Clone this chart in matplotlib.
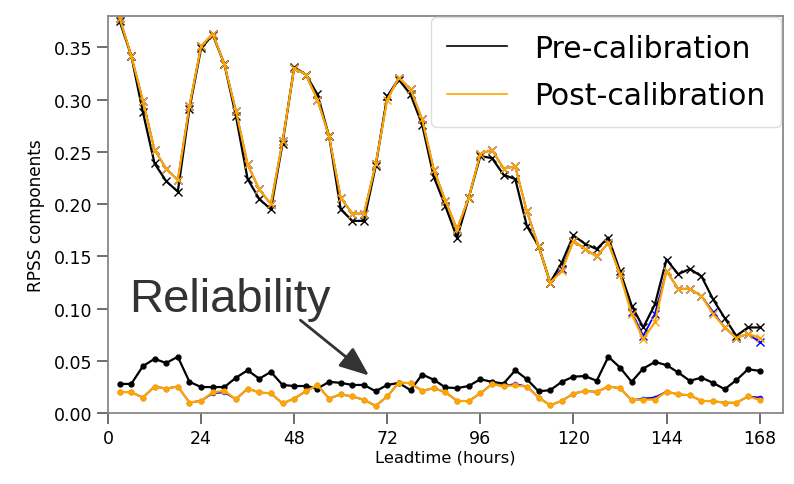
import matplotlib
matplotlib.use("Agg")
import matplotlib.pyplot as plt
from matplotlib.lines import Line2D
import numpy as np

leadtime = list(range(3, 169, 3))

rpss_pre = [0.375, 0.342, 0.288, 0.239, 0.222, 0.212, 0.291, 0.349, 0.362, 0.334,
            0.284, 0.224, 0.205, 0.195, 0.258, 0.331, 0.324, 0.305, 0.265, 0.195,
            0.184, 0.184, 0.236, 0.303, 0.319, 0.305, 0.276, 0.226, 0.198, 0.168,
            0.206, 0.246, 0.244, 0.228, 0.224, 0.179, 0.160, 0.125, 0.144, 0.170,
            0.162, 0.157, 0.168, 0.136, 0.103, 0.082, 0.104, 0.147, 0.133, 0.138,
            0.131, 0.109, 0.091, 0.074, 0.082, 0.082]

rpss_post = [0.378, 0.342, 0.299, 0.252, 0.234, 0.223, 0.294, 0.351, 0.363, 0.334,
             0.289, 0.238, 0.214, 0.200, 0.260, 0.330, 0.324, 0.300, 0.265, 0.206,
             0.191, 0.191, 0.238, 0.300, 0.321, 0.310, 0.281, 0.233, 0.203, 0.176,
             0.206, 0.248, 0.252, 0.234, 0.236, 0.193, 0.160, 0.125, 0.136, 0.165,
             0.157, 0.150, 0.163, 0.133, 0.095, 0.071, 0.087, 0.136, 0.119, 0.119,
             0.112, 0.095, 0.082, 0.072, 0.076, 0.072]

rpss_alt = [0.378, 0.342, 0.299, 0.252, 0.234, 0.223, 0.294, 0.351, 0.363, 0.334,
            0.289, 0.238, 0.214, 0.200, 0.260, 0.330, 0.324, 0.300, 0.265, 0.206,
            0.191, 0.191, 0.238, 0.303, 0.321, 0.310, 0.281, 0.233, 0.203, 0.176,
            0.206, 0.248, 0.252, 0.234, 0.236, 0.193, 0.160, 0.125, 0.138, 0.165,
            0.157, 0.150, 0.163, 0.133, 0.097, 0.074, 0.095, 0.136, 0.119, 0.119,
            0.112, 0.097, 0.082, 0.072, 0.076, 0.068]

rel_pre = [0.028, 0.028, 0.045, 0.052, 0.048, 0.054, 0.030, 0.025, 0.025, 0.025,
           0.034, 0.041, 0.033, 0.0395, 0.027, 0.026, 0.026, 0.0236, 0.030, 0.029,
           0.027, 0.027, 0.021, 0.027, 0.029, 0.022, 0.037, 0.032, 0.0246, 0.024,
           0.026, 0.0325, 0.030, 0.0284, 0.041, 0.0325, 0.021, 0.022, 0.030, 0.035,
           0.0355, 0.031, 0.054, 0.0437, 0.030, 0.0427, 0.049, 0.046, 0.039, 0.031,
           0.034, 0.029, 0.023, 0.0316, 0.042, 0.0405]

rel_post = [0.0204, 0.020, 0.015, 0.0255, 0.0236, 0.0255, 0.0102, 0.0118, 0.020, 0.0213,
            0.0134, 0.0236, 0.0198, 0.019, 0.0093, 0.014, 0.021, 0.0268, 0.014, 0.018,
            0.016, 0.0128, 0.007, 0.016, 0.0293, 0.0287, 0.0213, 0.024, 0.020, 0.0118,
            0.0115, 0.019, 0.0277, 0.026, 0.0265, 0.0255, 0.015, 0.0076, 0.0118, 0.0188,
            0.0213, 0.0204, 0.0255, 0.024, 0.0124, 0.013, 0.013, 0.0207, 0.018, 0.0172,
            0.0118, 0.0115, 0.010, 0.010, 0.016, 0.0128]

rel_alt = [0.0204, 0.020, 0.015, 0.0255, 0.0236, 0.0255, 0.0102, 0.0118, 0.019, 0.020,
           0.0134, 0.0236, 0.0198, 0.019, 0.0093, 0.014, 0.021, 0.0268, 0.014, 0.018,
           0.016, 0.0128, 0.007, 0.016, 0.0293, 0.0287, 0.0213, 0.024, 0.020, 0.0118,
           0.0115, 0.019, 0.0277, 0.026, 0.028, 0.0255, 0.015, 0.0076, 0.0118, 0.0188,
           0.0213, 0.0204, 0.0255, 0.024, 0.0124, 0.014, 0.015, 0.0207, 0.018, 0.0172,
           0.0118, 0.0115, 0.010, 0.010, 0.016, 0.015]

xticks = [0, 24, 48, 72, 96, 120, 144, 168]
yticks = [0.00, 0.05, 0.10, 0.15, 0.20, 0.25, 0.30, 0.35]

fig = plt.figure(figsize=(7.94, 4.85), dpi=100)
ax = fig.add_axes([0.136, 0.146, 0.850, 0.819])

ax.plot(leadtime, rpss_alt, color='blue', lw=1.3, marker='x', ms=6)
ax.plot(leadtime, rel_alt, color='blue', lw=1.3, marker='.', ms=6)
ax.plot(leadtime, rpss_pre, color='black', lw=1.6, marker='x', ms=6)
ax.plot(leadtime, rel_pre, color='black', lw=1.6, marker='.', ms=7)
ax.plot(leadtime, rpss_post, color='orange', lw=1.6, marker='x', ms=6)
ax.plot(leadtime, rel_post, color='orange', lw=1.6, marker='.', ms=7)

ax.set_xlim(0, 174)
ax.set_ylim(0, 0.38)
ax.set_xticks(xticks)
ax.set_yticks(yticks)
ax.set_yticklabels([f"{v:.2f}" for v in yticks])
ax.tick_params(labelsize=12.5, length=8, width=1.2, color='#555555')
for s in ax.spines.values():
    s.set_linewidth(1.3)
    s.set_color('#888888')

ax.set_xlabel('Leadtime (hours)', fontsize=11.8, labelpad=2)
ax.set_ylabel('RPSS components', fontsize=12.2, labelpad=6)

handles = [Line2D([], [], color='black', lw=1.2),
           Line2D([], [], color='orange', lw=1.2)]
leg = ax.legend(handles, ['Pre-calibration', 'Post-calibration'], loc='upper right',
                fontsize=21.5, handlelength=2.0, borderpad=0.55, borderaxespad=0.05,
                labelspacing=0.62, handletextpad=0.9, framealpha=1)
leg.get_frame().set_edgecolor('#dddddd')

ax.text(5.5, 0.098, 'Reliability', fontsize=34, family='Liberation Sans',
        color='#333333', ha='left', va='baseline')
ax.annotate('', xy=(67.3, 0.036), xytext=(49.6, 0.089),
            arrowprops=dict(arrowstyle='-|>,head_width=0.22,head_length=0.55',
                            mutation_scale=33, color='#333333', lw=2.0,
                            shrinkA=0, shrinkB=0))

fig.savefig('out.png', dpi=100)
